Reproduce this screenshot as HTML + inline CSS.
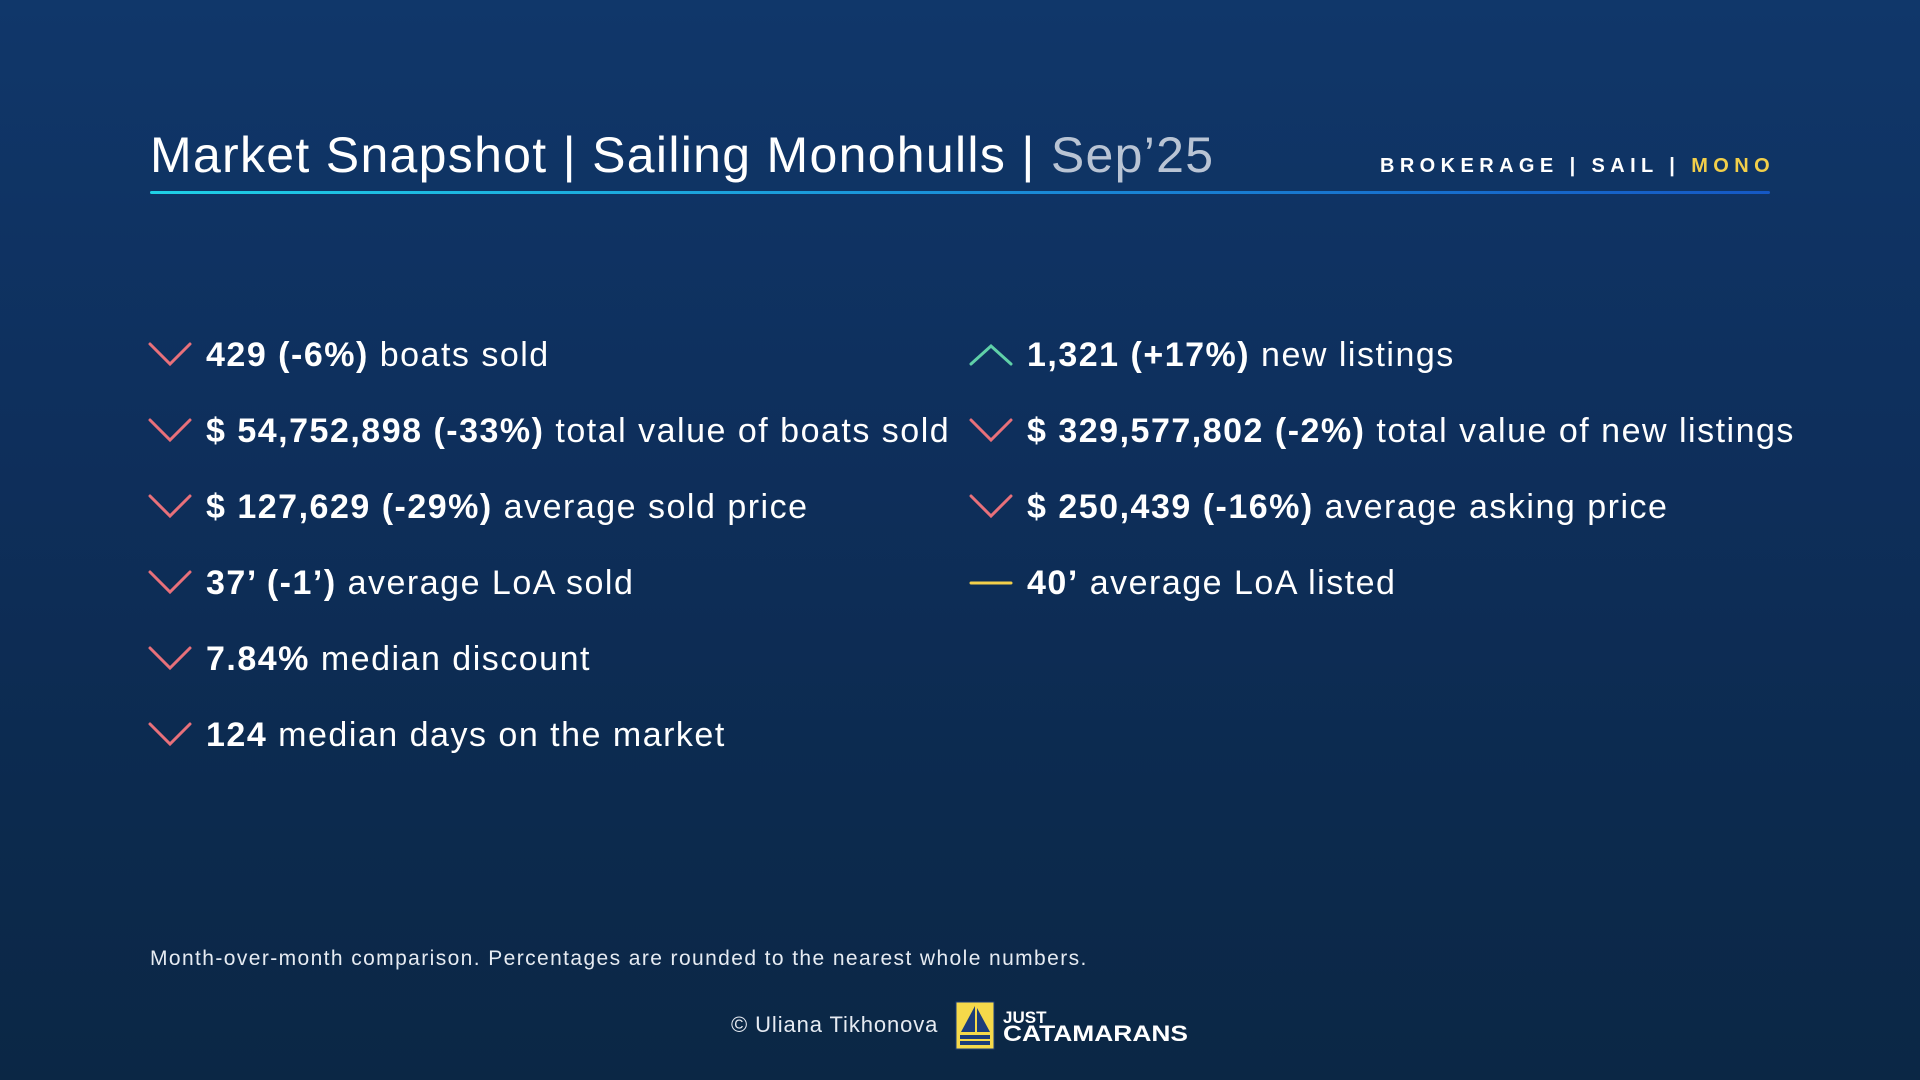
<!DOCTYPE html>
<html><head><meta charset="utf-8"><style>
*{margin:0;padding:0;box-sizing:border-box}
body{width:1920px;height:1080px;overflow:hidden;background:linear-gradient(180deg,#10376a 0%,#0e2f5c 40%,#0c2a4e 75%,#0b2745 100%);font-family:"Liberation Sans",sans-serif;color:#fff;position:relative}
.title{position:absolute;left:150px;top:126px;font-size:50px;font-weight:300;letter-spacing:1.3px;white-space:nowrap}
.title .d{color:#b9c4d4}
.tag{position:absolute;left:1380px;top:155px;font-size:20px;letter-spacing:5.4px;white-space:nowrap;font-weight:bold}
.tag .m{color:#f2cf4a}
.line{position:absolute;left:150px;top:191px;width:1620px;height:3px;border-radius:2px;background:linear-gradient(90deg,#1fd0e6,#1a8fd8 50%,#1558c4)}
.row{position:absolute;font-size:34px;white-space:nowrap;line-height:40px;letter-spacing:1.5px}
.row b{font-weight:bold}
.foot{position:absolute;left:150px;top:947px;font-size:21px;color:#e6ebf2;letter-spacing:1.4px}
.copy{position:absolute;left:731px;top:1012px;font-size:22px;color:#e6ebf2;letter-spacing:0.9px}
</style></head><body>
<div class="title">Market Snapshot | Sailing Monohulls | <span class="d">Sep’25</span></div>
<div class="tag">BROKERAGE | SAIL | <span class="m">MONO</span></div>
<div class="line"></div>

<svg width="1920" height="1080" style="position:absolute;left:0;top:0">
<g fill="none" stroke-width="3" stroke-linecap="round">
<g stroke="#e8707a">
<polyline points="150,344 170,364 190,344"/>
<polyline points="150,420 170,440 190,420"/>
<polyline points="150,496 170,516 190,496"/>
<polyline points="150,572 170,592 190,572"/>
<polyline points="150,648 170,668 190,648"/>
<polyline points="150,724 170,744 190,724"/>
<polyline points="971,420 991,440 1011,420"/>
<polyline points="971,496 991,516 1011,496"/>
</g>
<polyline stroke="#5fd0a8" points="971,364 991,346 1011,364"/>
<line stroke="#f2cf4a" x1="971" y1="583" x2="1011" y2="583"/>
</g>
<g transform="translate(956,1002)">
<rect x="0" y="0" width="38" height="47" fill="#f5d94a" stroke="#1b3c7a" stroke-width="1"/>
<polygon points="19,4 19,30 5,30" fill="#1b3c7a"/>
<polygon points="21,6 34,30 21,30" fill="#1b3c7a"/>
<rect x="4" y="33" width="30" height="4" fill="#1b3c7a"/>
<rect x="4" y="39" width="30" height="4" fill="#1b3c7a"/>
</g>
<text x="1003" y="1023" font-family="Liberation Sans" font-weight="bold" font-size="17" fill="#fff">JUST</text>
<text x="1003" y="1041" font-family="Liberation Sans" font-weight="bold" font-size="22" fill="#fff" textLength="185" lengthAdjust="spacingAndGlyphs">CATAMARANS</text>
</svg>

<div class="row" style="left:206px;top:335px"><b>429 (-6%)</b> boats sold</div>
<div class="row" style="left:206px;top:411px"><b>$ 54,752,898 (-33%)</b> total value of boats sold</div>
<div class="row" style="left:206px;top:487px"><b>$ 127,629 (-29%)</b> average sold price</div>
<div class="row" style="left:206px;top:563px"><b>37’ (-1’)</b> average LoA sold</div>
<div class="row" style="left:206px;top:639px"><b>7.84%</b> median discount</div>
<div class="row" style="left:206px;top:715px"><b>124</b> median days on the market</div>

<div class="row" style="left:1027px;top:335px"><b>1,321 (+17%)</b> new listings</div>
<div class="row" style="left:1027px;top:411px"><b>$ 329,577,802 (-2%)</b> total value of new listings</div>
<div class="row" style="left:1027px;top:487px"><b>$ 250,439 (-16%)</b> average asking price</div>
<div class="row" style="left:1027px;top:563px"><b>40’</b> average LoA listed</div>

<div class="foot">Month-over-month comparison. Percentages are rounded to the nearest whole numbers.</div>
<div class="copy">© Uliana Tikhonova</div>
</body></html>
